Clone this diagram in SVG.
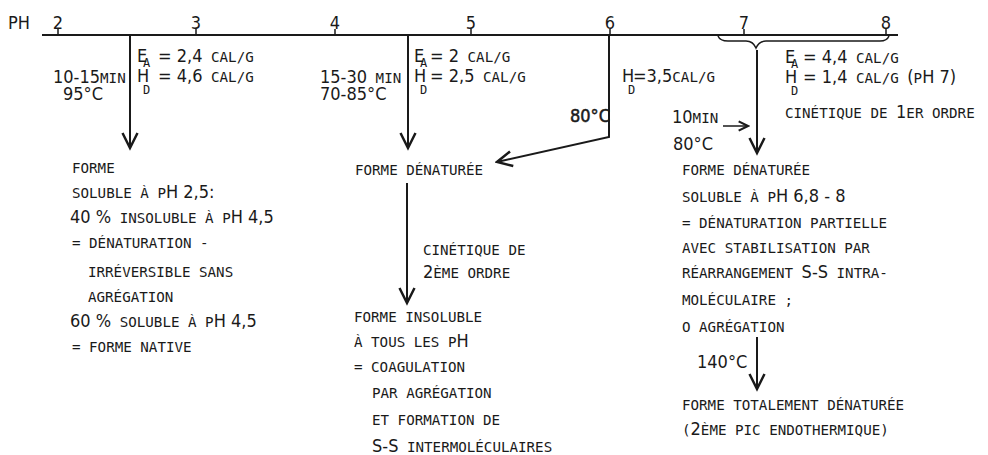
<svg xmlns="http://www.w3.org/2000/svg" width="988" height="455" viewBox="0 0 988 455">
<style>
text { font-family: "DejaVu Sans Mono", "Liberation Mono", monospace; font-size: 14.2px; fill: #1a1a1a; }
.b { font-family: "DejaVu Sans Condensed", "DejaVu Sans", sans-serif; font-stretch: condensed; font-size: 18px; }
.sub { font-size: 12px; }
.bold { stroke: #1a1a1a; stroke-width: 0.5; }
.ln { stroke: #1a1a1a; stroke-width: 2; fill: none; }
.tn { stroke: #1a1a1a; stroke-width: 1.5; fill: none; }
</style>
<defs>
<marker id="ah" markerUnits="userSpaceOnUse" markerWidth="20" markerHeight="20" viewBox="-14 -8 16 16" refX="0" refY="0" orient="auto">
<path d="M-12,-6 L0,0 L-12,6" fill="none" stroke="#1a1a1a" stroke-width="2"/>
</marker>
<marker id="ahs" markerUnits="userSpaceOnUse" markerWidth="14" markerHeight="14" viewBox="-10 -6 12 12" refX="0" refY="0" orient="auto">
<path d="M-8,-4 L0,0 L-8,4" fill="none" stroke="#1a1a1a" stroke-width="1.8"/>
</marker>
</defs>

<g id="axis">
<line class="ln" x1="42" y1="35" x2="898" y2="35"/>
<line class="tn" x1="58" y1="29" x2="58" y2="35"/>
<line class="tn" x1="196" y1="29" x2="196" y2="35"/>
<line class="tn" x1="335" y1="29" x2="335" y2="35"/>
<line class="tn" x1="471" y1="29" x2="471" y2="35"/>
<line class="tn" x1="610" y1="29" x2="610" y2="35"/>
<line class="tn" x1="744" y1="29" x2="744" y2="35"/>
<line class="tn" x1="886" y1="29" x2="886" y2="35"/>
<text x="8" y="29" class="b">PH</text>
<text x="58" y="29" class="b" text-anchor="middle">2</text>
<text x="196" y="29" class="b" text-anchor="middle">3</text>
<text x="335" y="29" class="b" text-anchor="middle">4</text>
<text x="471" y="29" class="b" text-anchor="middle">5</text>
<text x="610" y="29" class="b" text-anchor="middle">6</text>
<text x="744" y="29" class="b" text-anchor="middle">7</text>
<text x="886" y="29" class="b" text-anchor="middle">8</text>
<path class="tn" d="M718,36 Q720,41 728,41 L746,41 Q753,41 756,48 Q759,41 766,41 L880,41 Q887,41 889,36"/>
</g>

<g id="connectors">
<line class="ln" x1="130" y1="35" x2="130" y2="148" marker-end="url(#ah)"/>
<line class="ln" x1="408" y1="35" x2="408" y2="148" marker-end="url(#ah)"/>
<polyline class="ln" points="609,35 609,137 497,162" marker-end="url(#ah)"/>
<line class="ln" x1="757" y1="50" x2="757" y2="153" marker-end="url(#ah)"/>
<line class="tn" x1="723" y1="126" x2="748" y2="126" marker-end="url(#ahs)"/>
<line class="ln" x1="407" y1="183" x2="407" y2="303" marker-end="url(#ah)"/>
<line class="ln" x1="757" y1="337" x2="757" y2="389" marker-end="url(#ah)"/>
</g>

<g id="cond-left">
<text x="53" y="83"><tspan class="b">10-15</tspan>MIN</text>
<text x="63" y="100" class="b">95°C</text>
<text x="137" y="62"><tspan class="b">E</tspan><tspan x="143" dy="5" class="sub">A</tspan><tspan x="158" dy="-5" class="b">= 2,4</tspan> CAL/G</text>
<text x="137" y="82"><tspan class="b">H</tspan><tspan x="143" dy="12" class="sub">D</tspan><tspan x="158" dy="-12" class="b">= 4,6</tspan> CAL/G</text>
</g>

<g id="cond-mid">
<text x="320" y="83"><tspan class="b">15-30</tspan> MIN</text>
<text x="320" y="100" class="b">70-85°C</text>
<text x="414" y="62"><tspan class="b">E</tspan><tspan x="420" dy="5" class="sub">A</tspan><tspan x="430" dy="-5" class="b">= 2</tspan> CAL/G</text>
<text x="414" y="82"><tspan class="b">H</tspan><tspan x="420" dy="12" class="sub">D</tspan><tspan x="430" dy="-12" class="b">= 2,5</tspan> CAL/G</text>
</g>

<g id="cond-6">
<text x="622" y="82"><tspan class="b">H</tspan><tspan x="628" dy="12" class="sub">D</tspan><tspan x="633" dy="-12" class="b">=3,5</tspan>CAL/G</text>
<text x="570" y="122" class="b bold">80°C</text>
</g>

<g id="cond-right">
<text x="785" y="63"><tspan class="b">E</tspan><tspan x="791" dy="5" class="sub">A</tspan><tspan x="803" dy="-5" class="b">= 4,4</tspan> CAL/G</text>
<text x="785" y="83"><tspan class="b">H</tspan><tspan x="791" dy="12" class="sub">D</tspan><tspan x="803" dy="-12" class="b">= 1,4</tspan> CAL/G <tspan class="b">(</tspan>P<tspan class="b">H 7)</tspan></text>
<text x="785" y="118">CINÉTIQUE DE <tspan class="b">1</tspan>ER ORDRE</text>
<text x="672" y="123"><tspan class="b">10</tspan>MIN</text>
<text x="673" y="150" class="b">80°C</text>
</g>

<g id="node-left">
<text x="72" y="173">FORME</text>
<text x="72" y="198">SOLUBLE À P<tspan class="b">H 2,5:</tspan></text>
<text x="70" y="223"><tspan class="b">40 %</tspan> INSOLUBLE À P<tspan class="b">H 4,5</tspan></text>
<text x="72" y="248">= DÉNATURATION -</text>
<text x="88" y="277">IRRÉVERSIBLE SANS</text>
<text x="88" y="302">AGRÉGATION</text>
<text x="70" y="327"><tspan class="b">60 %</tspan> SOLUBLE À P<tspan class="b">H 4,5</tspan></text>
<text x="72" y="352">= FORME NATIVE</text>
</g>

<g id="node-mid-denat">
<text x="355" y="175">FORME DÉNATURÉE</text>
</g>
<g id="label-mid">
<text x="423" y="255">CINÉTIQUE DE</text>
<text x="423" y="278"><tspan class="b">2</tspan>ÈME ORDRE</text>
</g>
<g id="node-mid-insol">
<text x="354" y="322">FORME INSOLUBLE</text>
<text x="354" y="347">À TOUS LES P<tspan class="b">H</tspan></text>
<text x="354" y="372">= COAGULATION</text>
<text x="372" y="398">PAR AGRÉGATION</text>
<text x="372" y="425">ET FORMATION DE</text>
<text x="372" y="452"><tspan class="b">S-S</tspan> INTERMOLÉCULAIRES</text>
</g>

<g id="node-right-partial">
<text x="682" y="175">FORME DÉNATURÉE</text>
<text x="682" y="202">SOLUBLE À P<tspan class="b">H 6,8 - 8</tspan></text>
<text x="682" y="228">= DÉNATURATION PARTIELLE</text>
<text x="682" y="253">AVEC STABILISATION PAR</text>
<text x="682" y="278">RÉARRANGEMENT <tspan class="b">S-S</tspan> INTRA-</text>
<text x="682" y="305">MOLÉCULAIRE ;</text>
<text x="682" y="332">O AGRÉGATION</text>
</g>
<g id="label-140">
<text x="697" y="368" class="b">140°C</text>
</g>
<g id="node-right-total">
<text x="682" y="410">FORME TOTALEMENT DÉNATURÉE</text>
<text x="682" y="435">(<tspan class="b">2</tspan>ÈME PIC ENDOTHERMIQUE)</text>
</g>
</svg>
